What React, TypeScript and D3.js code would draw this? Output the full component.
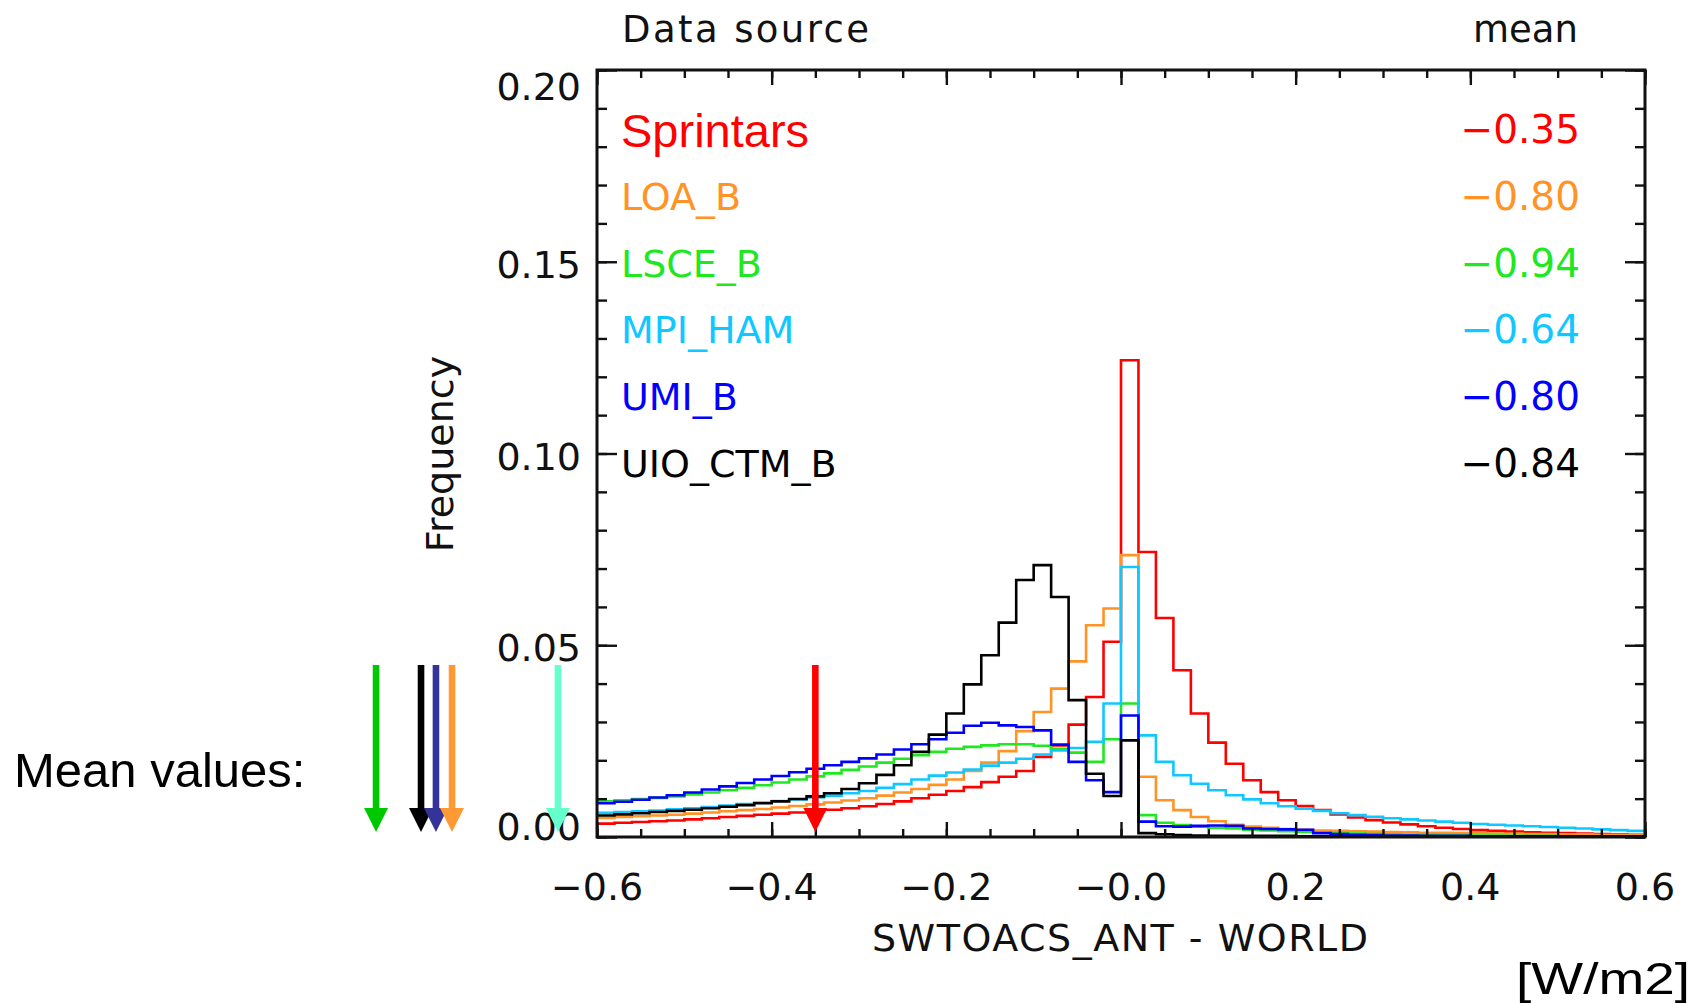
import React, { useEffect, useRef } from 'react';
import * as d3 from 'd3';

// models, in legend / drawing order
const models = ['Sprintars', 'LOA_B', 'LSCE_B', 'MPI_HAM', 'UMI_B', 'UIO_CTM_B'];
const meanLabels = ['−0.35', '−0.80', '−0.94', '−0.64', '−0.80', '−0.84'];
const modelColors = ['#ff0000', '#ff9326', '#20e820', '#10c8ff', '#0000ff', '#000000'];

// histogram frequencies, 60 bins of 0.02 from -0.6 to 0.6
const sprintars = [
  0.0035, 0.0037, 0.0039, 0.0041, 0.0043, 0.0046, 0.0049, 0.0052, 0.0055, 0.0058,
  0.0061, 0.0064, 0.0067, 0.0071, 0.0075, 0.0080, 0.0086, 0.0093, 0.0101, 0.0110,
  0.0120, 0.0130, 0.0143, 0.0157, 0.0172, 0.0209, 0.0239, 0.0293, 0.0365, 0.0509,
  0.1243, 0.0743, 0.0571, 0.0435, 0.0322, 0.0246, 0.0191, 0.0148, 0.0117, 0.0096,
  0.0081, 0.0070, 0.0059, 0.0051, 0.0044, 0.0038, 0.0033, 0.0028, 0.0024, 0.0021,
  0.0018, 0.0016, 0.0014, 0.0012, 0.0011, 0.0010, 0.0009, 0.0008, 0.0007, 0.0006,
];
const loaB = [
  0.0050, 0.0052, 0.0054, 0.0056, 0.0058, 0.0061, 0.0064, 0.0067, 0.0070, 0.0073,
  0.0077, 0.0081, 0.0085, 0.0090, 0.0095, 0.0101, 0.0108, 0.0116, 0.0125, 0.0136,
  0.0150, 0.0172, 0.0194, 0.0224, 0.0276, 0.0326, 0.0387, 0.0458, 0.0552, 0.0596,
  0.0735, 0.0157, 0.0096, 0.0070, 0.0052, 0.0041, 0.0032, 0.0027, 0.0024, 0.0021,
  0.0019, 0.0017, 0.0016, 0.0015, 0.0014, 0.0013, 0.0012, 0.0011, 0.0011, 0.0010,
  0.0010, 0.0009, 0.0009, 0.0008, 0.0008, 0.0007, 0.0007, 0.0006, 0.0006, 0.0005,
];
const lsceB = [
  0.0093, 0.0096, 0.0099, 0.0102, 0.0106, 0.0111, 0.0116, 0.0122, 0.0128, 0.0135,
  0.0142, 0.0150, 0.0158, 0.0166, 0.0175, 0.0184, 0.0194, 0.0204, 0.0213, 0.0222,
  0.0230, 0.0235, 0.0239, 0.0242, 0.0242, 0.0238, 0.0230, 0.0220, 0.0196, 0.0255,
  0.0348, 0.0057, 0.0037, 0.0031, 0.0027, 0.0024, 0.0022, 0.0019, 0.0017, 0.0015,
  0.0013, 0.0011, 0.0010, 0.0009, 0.0008, 0.0007, 0.0006, 0.0006, 0.0005, 0.0005,
  0.0004, 0.0004, 0.0003, 0.0003, 0.0003, 0.0002, 0.0002, 0.0002, 0.0002, 0.0001,
];
const mpiHam = [
  0.0063, 0.0065, 0.0067, 0.0069, 0.0072, 0.0075, 0.0078, 0.0082, 0.0086, 0.0090,
  0.0094, 0.0098, 0.0103, 0.0108, 0.0114, 0.0120, 0.0128, 0.0138, 0.0150, 0.0160,
  0.0168, 0.0176, 0.0186, 0.0194, 0.0204, 0.0215, 0.0226, 0.0232, 0.0248, 0.0348,
  0.0704, 0.0265, 0.0196, 0.0161, 0.0139, 0.0122, 0.0109, 0.0098, 0.0088, 0.0080,
  0.0074, 0.0068, 0.0062, 0.0057, 0.0053, 0.0049, 0.0046, 0.0043, 0.0040, 0.0037,
  0.0034, 0.0032, 0.0030, 0.0028, 0.0026, 0.0024, 0.0022, 0.0020, 0.0018, 0.0016,
];
const umiB = [
  0.0088, 0.0092, 0.0097, 0.0103, 0.0109, 0.0116, 0.0124, 0.0132, 0.0141, 0.0150,
  0.0159, 0.0169, 0.0178, 0.0187, 0.0196, 0.0205, 0.0215, 0.0228, 0.0242, 0.0255,
  0.0272, 0.0290, 0.0298, 0.0291, 0.0287, 0.0278, 0.0241, 0.0196, 0.0148, 0.0117,
  0.0317, 0.0040, 0.0028, 0.0027, 0.0029, 0.0030, 0.0029, 0.0022, 0.0021, 0.0020,
  0.0019, 0.0010, 0.0008, 0.0006, 0.0005, 0.0004, 0.0004, 0.0003, 0.0003, 0.0003,
  0.0002, 0.0002, 0.0002, 0.0002, 0.0001, 0.0001, 0.0001, 0.0001, 0.0001, 0.0001,
];
const uioCtmB = [
  0.0056, 0.0059, 0.0062, 0.0065, 0.0068, 0.0071, 0.0075, 0.0079, 0.0083, 0.0088,
  0.0093, 0.0099, 0.0106, 0.0114, 0.0125, 0.0140, 0.0162, 0.0187, 0.0222, 0.0267,
  0.0322, 0.0398, 0.0474, 0.0559, 0.0670, 0.0709, 0.0626, 0.0357, 0.0165, 0.0107,
  0.0252, 0.0010, 0.0007, 0.0005, 0.0004, 0.0003, 0.0003, 0.0003, 0.0003, 0.0003,
  0.0002, 0.0002, 0.0002, 0.0002, 0.0002, 0.0002, 0.0002, 0.0002, 0.0001, 0.0001,
  0.0001, 0.0001, 0.0001, 0.0001, 0.0001, 0.0001, 0.0001, 0.0001, 0.0001, 0.0001,
];
const series = [sprintars, loaB, lsceB, mpiHam, umiB, uioCtmB];

// "Mean values:" arrows as placed on the slide (x units)
const arrowX = [-0.853, -0.8015, -0.7844, -0.766, -0.6447, -0.35];
const arrowColors = ['#00c800', '#000000', '#333399', '#ff9933', '#66ffcc', '#ff0000'];

const xTicks = [-0.6, -0.4, -0.2, 0, 0.2, 0.4, 0.6];
const xTickLabels = ['−0.6', '−0.4', '−0.2', '−0.0', '0.2', '0.4', '0.6'];
const yTicks = [0, 0.05, 0.1, 0.15, 0.2];
const yTickLabels = ['0.00', '0.05', '0.10', '0.15', '0.20'];

const IDL = "'DejaVu Sans', sans-serif";
const ARIAL = "'Liberation Sans', Arial, sans-serif";
const INK = '#111';

const App = () => {
  const ref = useRef<SVGSVGElement>(null);

  useEffect(() => {
    drawChart();
  }, []);

  const drawChart = () => {
    const svg = d3.select(ref.current);
    svg.selectAll('*').remove();

    const left = 597, right = 1645, top = 70, bottom = 837;
    const binW = 0.02;

    const x = d3.scaleLinear().domain([-0.6, 0.6]).range([left, right]);
    const y = d3.scaleLinear().domain([0, 0.2]).range([bottom, top]);

    // histograms (step lines)
    const line = d3.line<[number, number]>()
      .x(d => x(d[0]))
      .y(d => y(d[1]))
      .curve(d3.curveStepAfter);

    series.forEach((vals, k) => {
      const pts: [number, number][] = vals.map((v, i) => [-0.6 + i * binW, v]);
      pts.push([0.6, vals[vals.length - 1]]);
      svg.append('path')
        .attr('d', line(pts))
        .attr('fill', 'none')
        .attr('stroke', modelColors[k])
        .attr('stroke-width', 2.6)
        .attr('stroke-linejoin', 'miter');
    });

    // ticks on all four sides, pointing inward
    const minorX = d3.range(-0.6, 0.6001, 0.05);
    const minorY = d3.range(0, 0.2001, 0.01);
    const noLabel = () => '';
    const styleAxis = (g) => {
      g.select('.domain').remove();
      g.selectAll('line').attr('stroke', INK).attr('stroke-width', 2.4);
    };

    svg.append('g').attr('transform', `translate(0,${bottom})`)
      .call(d3.axisBottom(x).tickValues(minorX).tickSize(-8).tickFormat(noLabel)).call(styleAxis);
    svg.append('g').attr('transform', `translate(0,${bottom})`)
      .call(d3.axisBottom(x).tickValues(xTicks).tickSize(-15).tickFormat(noLabel)).call(styleAxis);
    svg.append('g').attr('transform', `translate(0,${top})`)
      .call(d3.axisTop(x).tickValues(minorX).tickSize(-8).tickFormat(noLabel)).call(styleAxis);
    svg.append('g').attr('transform', `translate(0,${top})`)
      .call(d3.axisTop(x).tickValues(xTicks).tickSize(-15).tickFormat(noLabel)).call(styleAxis);
    svg.append('g').attr('transform', `translate(${left},0)`)
      .call(d3.axisLeft(y).tickValues(minorY).tickSize(-10).tickFormat(noLabel)).call(styleAxis);
    svg.append('g').attr('transform', `translate(${left},0)`)
      .call(d3.axisLeft(y).tickValues(yTicks).tickSize(-20).tickFormat(noLabel)).call(styleAxis);
    svg.append('g').attr('transform', `translate(${right},0)`)
      .call(d3.axisRight(y).tickValues(minorY).tickSize(-10).tickFormat(noLabel)).call(styleAxis);
    svg.append('g').attr('transform', `translate(${right},0)`)
      .call(d3.axisRight(y).tickValues(yTicks).tickSize(-20).tickFormat(noLabel)).call(styleAxis);

    // frame
    svg.append('rect')
      .attr('x', left).attr('y', top)
      .attr('width', right - left).attr('height', bottom - top)
      .attr('fill', 'none').attr('stroke', INK).attr('stroke-width', 3);

    // y tick labels (IDL pulls the end labels inside the axis range)
    svg.selectAll('.ylab')
      .data(yTicks)
      .enter().append('text')
      .attr('class', 'ylab')
      .attr('x', 581)
      .attr('y', d => Math.min(Math.max(y(d) + 16, top + 30), bottom + 3))
      .attr('text-anchor', 'end')
      .style('font-family', IDL).style('font-size', '38px').style('fill', INK)
      .text((d, i) => yTickLabels[i]);

    // x tick labels
    svg.selectAll('.xlab')
      .data(xTicks)
      .enter().append('text')
      .attr('class', 'xlab')
      .attr('x', d => x(d))
      .attr('y', 900)
      .attr('text-anchor', 'middle')
      .style('font-family', IDL).style('font-size', '38px').style('fill', INK)
      .text((d, i) => xTickLabels[i]);

    // axis titles
    svg.append('text')
      .attr('x', 872).attr('y', 951)
      .attr('textLength', 496).attr('lengthAdjust', 'spacing')
      .style('font-family', IDL).style('font-size', '38px').style('fill', INK)
      .text('SWTOACS_ANT - WORLD');

    svg.append('text')
      .attr('transform', 'translate(453,454) rotate(-90)')
      .attr('text-anchor', 'middle')
      .style('font-family', IDL).style('font-size', '38px').style('fill', INK)
      .text('Frequency');

    // legend header
    svg.append('text')
      .attr('x', 622).attr('y', 42)
      .attr('textLength', 247).attr('lengthAdjust', 'spacing')
      .style('font-family', IDL).style('font-size', '37px').style('fill', INK)
      .text('Data source');
    svg.append('text')
      .attr('x', 1578).attr('y', 42)
      .attr('text-anchor', 'end')
      .style('font-family', IDL).style('font-size', '37px').style('fill', INK)
      .text('mean');

    // legend rows
    const rowY = (i: number) => 143 + 66.8 * i;
    models.forEach((m, i) => {
      const big = i === 0;
      svg.append('text')
        .attr('x', 621)
        .attr('y', big ? 147 : rowY(i))
        .style('font-family', big ? ARIAL : IDL)
        .style('font-size', big ? '47px' : '38px')
        .style('fill', modelColors[i])
        .text(m);
      svg.append('text')
        .attr('x', 1580)
        .attr('y', rowY(i))
        .attr('text-anchor', 'end')
        .style('font-family', IDL).style('font-size', '39px')
        .style('fill', modelColors[i])
        .text(meanLabels[i]);
    });

    // slide annotations: mean-value arrows
    svg.append('text')
      .attr('x', 14).attr('y', 787)
      .style('font-family', ARIAL).style('font-size', '49px').style('fill', '#000')
      .text('Mean values:');

    const arrowTop = 665, headTop = 808, tip = 832;
    arrowX.forEach((v, i) => {
      const cx = x(v);
      svg.append('rect')
        .attr('x', cx - 3.3).attr('y', arrowTop)
        .attr('width', 6.6).attr('height', headTop - arrowTop + 1)
        .attr('fill', arrowColors[i]);
      svg.append('path')
        .attr('d', `M${cx - 12},${headTop}L${cx + 12},${headTop}L${cx},${tip}Z`)
        .attr('fill', arrowColors[i]);
    });

    svg.append('text')
      .attr('x', 1516).attr('y', 994)
      .attr('textLength', 174).attr('lengthAdjust', 'spacingAndGlyphs')
      .style('font-family', ARIAL).style('font-size', '45px').style('fill', '#000')
      .text('[W/m2]');
  };

  return (
    <svg
      ref={ref}
      width={1703}
      height={1003}
      style={{ position: 'absolute', left: 0, top: 0, background: '#fff' }}
    />
  );
};

export default App;
